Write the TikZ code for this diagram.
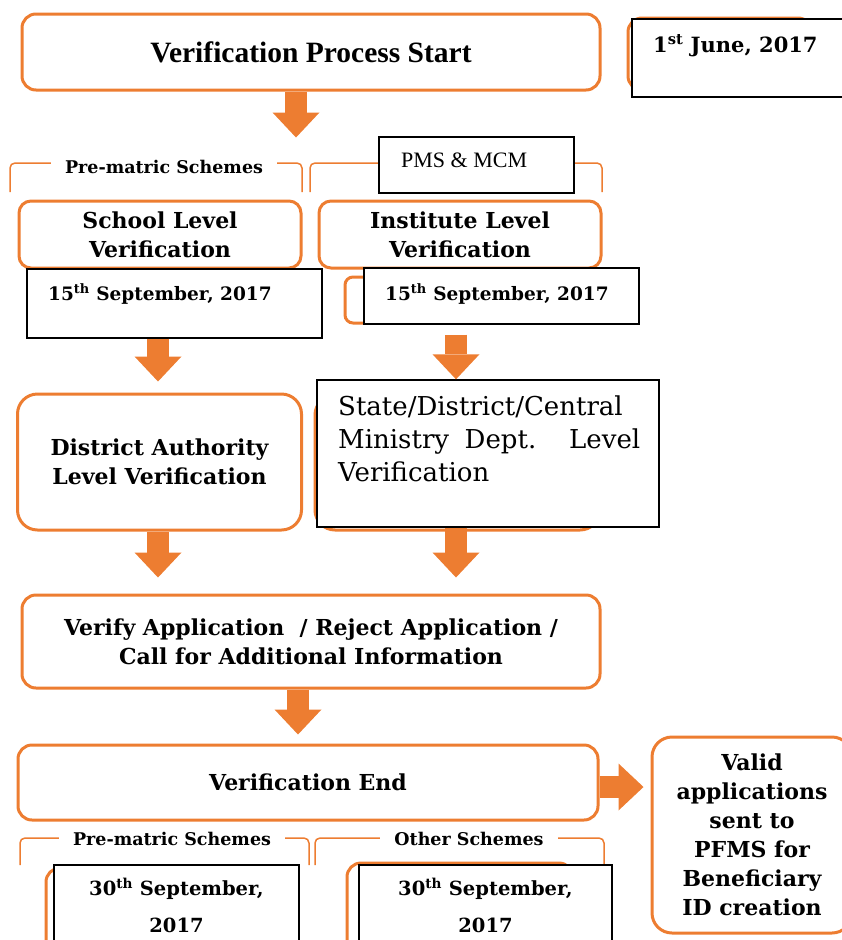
\documentclass[tikz,border=0pt]{standalone}
\usepackage{fontspec}
\setmainfont{DejaVu Serif}
\newfontfamily\tms{Liberation Serif}
\usepackage{tikz}
\usetikzlibrary{arrows.meta}
\usetikzlibrary{positioning}
\definecolor{orng}{HTML}{ED7D31}
\tikzset{>=latex}
\tikzstyle{obox} = [draw=orng, line width=3pt, rounded corners=14pt, fill=white, align=center, inner sep=0]
\tikzstyle{dbox} = [draw=black, line width=1.4pt, fill=white, inner sep=0]
\tikzstyle{bracket} = [draw=orng, line width=1.5pt, rounded corners=5pt]
\tikzstyle{blk} = [draw=orng, line width=22pt, -{Triangle[length=25pt, width=47pt, line width=0pt]}]
\tikzstyle{bigtxt} = [font=\fontsize{22}{29}\selectfont\bfseries]
\tikzstyle{datetxt} = [font=\fontsize{18.5}{22}\selectfont\bfseries, inner sep=0]
\tikzstyle{labtxt} = [font=\fontsize{17.5}{20}\selectfont\bfseries, fill=white, inner xsep=14pt, inner ysep=2pt]

\begin{document}
\begin{tikzpicture}[x=1pt, y=-1pt]
\useasboundingbox (0,0) rectangle (841,940);
% top row
\node [obox, minimum width=578pt, minimum height=76pt] (start) at (311,52) {\tms\fontsize{29.5}{33}\selectfont\bfseries Verification Process Start};
\node [obox, minimum width=184pt, minimum height=72pt] (juneb) at (720,54) {};
\node [dbox, minimum width=218pt, minimum height=78pt] (june) at (741,58) {};
\node [datetxt, font=\fontsize{21}{24}\selectfont\bfseries, anchor=base west] (junet) at (653,52) {1\textsuperscript{st} June, 2017};
% scheme brackets
\draw [bracket] (10,192) -- (10,163) -- (302,163) -- (302,192);
\node [labtxt, anchor=base] (premA) at (164,173) {Pre-matric Schemes};
\draw [bracket] (310,192) -- (310,163) -- (602,163) -- (602,192);
\node [dbox, minimum width=195pt, minimum height=56pt] (pms) at (476.5,165) {};
\node [anchor=base west, inner sep=0] (pmst) at (401,167) {\tms\fontsize{22}{24}\selectfont PMS \& MCM};
% first level
\node [obox, bigtxt, minimum width=282pt, minimum height=67pt, rounded corners=12pt] (school) at (160,234.5) {School Level\\Verification};
\node [obox, bigtxt, minimum width=282pt, minimum height=67pt, rounded corners=12pt] (inst) at (460,234.5) {Institute Level\\Verification};
\node [dbox, minimum width=295pt, minimum height=69pt] (dateL) at (174.5,303.5) {};
\node [datetxt, anchor=base west] (dateLt) at (48,300) {15\textsuperscript{th} September, 2017};
\node [obox, minimum width=275pt, minimum height=46pt, rounded corners=8pt] (dateRb) at (482.5,300) {};
\node [dbox, minimum width=275pt, minimum height=56pt] (dateR) at (501.5,296) {};
\node [datetxt, anchor=base west] (dateRt) at (385,300) {15\textsuperscript{th} September, 2017};
% second level
\node [obox, bigtxt, minimum width=284pt, minimum height=136pt, rounded corners=20pt] (district) at (159.5,462) {District Authority\\Level Verification};
\node [obox, minimum width=285pt, minimum height=135pt, rounded corners=20pt] (stateb) at (457.5,462.5) {};
\node [dbox, minimum width=342pt, minimum height=147pt] (state) at (488,453.5) {};
\node [anchor=north west, text width=302pt, align=justify, inner sep=0, font=\fontsize{26}{33}\selectfont] (statet) at (338,396) {State/District/Central\\Ministry Dept. Level\linebreak Verification};
% decision
\node [obox, bigtxt, minimum width=578pt, minimum height=93pt] (verify) at (311,641.5) {Verify Application~ / Reject Application /\\Call for Additional Information};
\node [obox, bigtxt, minimum width=580pt, minimum height=75pt] (vend) at (308,782.5) {Verification End};
\node [obox, bigtxt, minimum width=200pt, minimum height=196pt, rounded corners=20pt] (valid) at (752,835) {Valid\\applications\\sent to\\PFMS for\\Beneficiary\\ID creation};
% end dates
\draw [bracket] (20,865) -- (20,838) -- (309,838) -- (309,865);
\node [labtxt, anchor=base] (premB) at (172,845) {Pre-matric Schemes};
\draw [bracket] (315,865) -- (315,838) -- (604,838) -- (604,865);
\node [labtxt, anchor=base] (other) at (469,845) {Other Schemes};
\node [obox, minimum width=244pt, minimum height=96pt] (endLb) at (168,916) {};
\node [dbox, minimum width=245pt, minimum height=100pt] (endL) at (176.5,915) {};
\node [datetxt, font=\fontsize{19.5}{37}\selectfont\bfseries, align=center] (endLt) at (176.5,905.5) {30\textsuperscript{th} September,\\2017};
\node [obox, minimum width=226pt, minimum height=98pt] (endRb) at (460,912) {};
\node [dbox, minimum width=253pt, minimum height=100pt] (endR) at (485.5,915) {};
\node [datetxt, font=\fontsize{19.5}{37}\selectfont\bfseries, align=center] (endRt) at (485.5,905.5) {30\textsuperscript{th} September,\\2017};
% block arrows
\coordinate (cA) at (296,0);
\coordinate (cL) at (158,0);
\coordinate (cR) at (456,0);
\coordinate (cV) at (298,0);
\coordinate (cE) at (0,787);
\draw [blk, shorten >=62pt] (start.south -| cA) -- (school.north -| cA);
\draw [blk, shorten >=11pt] (dateL.south -| cL) -- (district.north -| cL);
\draw [blk, shorten <=10pt] (dateR.south -| cR) -- (state.north -| cR);
\draw [blk, shorten >=16pt] (district.south -| cL) -- (verify.north -| cL);
\draw [blk, shorten >=16pt] (state.south -| cR) -- (verify.north -| cR);
\draw [blk, shorten >=9pt] (verify.south -| cV) -- (vend.north -| cV);
\draw [blk, shorten >=7pt] (vend.east |- cE) -- (valid.west |- cE);
\end{tikzpicture}
\end{document}
